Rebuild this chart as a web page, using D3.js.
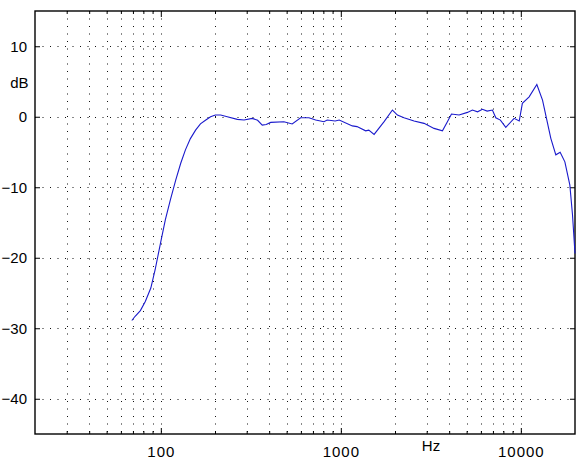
<!DOCTYPE html>
<html>
<head>
<meta charset="utf-8">
<script src="https://cdn.jsdelivr.net/npm/d3@7"></script>
<style>
  html, body { margin: 0; padding: 0; background: #fff; }
  svg { display: block; }
  text { font-family: Arial, "Liberation Sans", Helvetica, sans-serif; fill: #000; }
</style>
</head>
<body>
<script>
// Frequency response data (Hz, dB)
const freqs = [69, 72, 77, 82, 88, 93, 100, 106, 113, 121, 129, 137, 146, 156, 166, 177, 189, 201, 215, 234, 266, 290, 322, 345, 366, 385, 408, 483, 537, 598, 665, 725, 806, 840, 930, 980, 1159, 1230, 1374, 1430, 1531, 1740, 1935, 2063, 2244, 2552, 2900, 3296, 3670, 3910, 4119, 4540, 5053, 5385, 5750, 6120, 6500, 6955, 7260, 7700, 8252, 9178, 9800, 10200, 11125, 12275, 13200, 14680, 15650, 16540, 17570, 18725, 19370, 20000];
const levels = [-28.9, -28.3, -27.5, -26.2, -24.3, -21.7, -17.7, -14.6, -11.8, -9.0, -6.6, -4.7, -3.1, -1.9, -1.0, -0.5, 0.0, 0.24, 0.24, 0.0, -0.37, -0.47, -0.23, -0.5, -1.18, -1.1, -0.8, -0.7, -1.03, -0.14, -0.14, -0.47, -0.7, -0.47, -0.6, -0.47, -1.3, -1.4, -2.0, -1.9, -2.5, -0.7, 0.95, 0.24, -0.14, -0.6, -0.94, -1.65, -2.0, -0.7, 0.38, 0.24, 0.62, 0.95, 0.7, 1.05, 0.8, 0.95, -0.14, -0.47, -1.5, -0.23, -0.6, 1.9, 2.83, 4.58, 2.36, -3.06, -5.4, -5.05, -6.4, -9.7, -13.9, -19.4];

const xMajorTicks = [100, 1000, 10000];
const xTickLabels = ["100", "1000", "10000"];
const xGridVals = [30, 40, 50, 60, 70, 80, 90, 100, 200, 300, 400, 500, 600, 700, 800, 900, 1000, 2000, 3000, 4000, 5000, 6000, 7000, 8000, 9000, 10000];
const xMinorTicks = [30, 40, 50, 60, 70, 80, 90, 200, 300, 400, 500, 600, 700, 800, 900, 2000, 3000, 4000, 5000, 6000, 7000, 8000, 9000];
const yTicks = [-40, -30, -20, -10, 0, 10];
const yTickLabels = ["\u221240", "\u221230", "\u221220", "\u221210", "0", "10"];

const W = 585, H = 461;
const m = { left: 35, top: 11, right: 10, bottom: 27 };
const pw = W - m.left - m.right, ph = H - m.top - m.bottom;

const svg = d3.select("body").append("svg").attr("width", W).attr("height", H);
const g = svg.append("g").attr("transform", `translate(${m.left},${m.top})`);

const x = d3.scaleLog().domain([20, 20000]).range([0, pw]);
const y = d3.scaleLinear().domain([-45, 15]).range([ph, 0]);

// grid
const grid = g.append("g").attr("stroke", "#111").attr("stroke-width", 1).attr("stroke-dasharray", "1,6.5");
grid.selectAll("line.v").data(xGridVals).join("line")
  .attr("x1", d => Math.round(x(d)) + 0.5).attr("x2", d => Math.round(x(d)) + 0.5)
  .attr("y1", 0).attr("y2", ph);
grid.selectAll("line.h").data(yTicks).join("line")
  .attr("y1", d => Math.round(y(d)) + 0.5).attr("y2", d => Math.round(y(d)) + 0.5)
  .attr("x1", 0).attr("x2", pw);

// axes (inward ticks)
const yL = d3.axisLeft(y).tickValues(yTicks).tickSize(-5).tickFormat((d, i) => yTickLabels[i]).tickPadding(8);
const yR = d3.axisRight(y).tickValues(yTicks).tickSize(-5).tickFormat("");
const xB = d3.axisBottom(x).tickValues(xMajorTicks).tickSize(-6).tickFormat((d, i) => xTickLabels[i]).tickPadding(12);
const xT = d3.axisTop(x).tickValues(xMajorTicks).tickSize(-6).tickFormat("");
const xBm = d3.axisBottom(x).tickValues(xMinorTicks).tickSize(-3).tickFormat("");
const xTm = d3.axisTop(x).tickValues(xMinorTicks).tickSize(-3).tickFormat("");

function styleAxis(sel) {
  sel.select(".domain").remove();
  sel.selectAll("line").attr("stroke", "#000");
  sel.selectAll("text").style("font-size", "15px").attr("fill", "#000");
}
g.append("g").call(yL).call(styleAxis);
g.append("g").attr("transform", `translate(${pw},0)`).call(yR).call(styleAxis);
g.append("g").attr("transform", `translate(0,${ph})`).call(xB).call(styleAxis)
  .selectAll("text").style("letter-spacing", "1px");
g.append("g").call(xT).call(styleAxis);
g.append("g").attr("transform", `translate(0,${ph})`).call(xBm).call(styleAxis);
g.append("g").call(xTm).call(styleAxis);

// frame
g.append("rect").attr("x", 0).attr("y", 0).attr("width", pw).attr("height", ph)
  .attr("fill", "none").attr("stroke", "#000").attr("stroke-width", 1.4);

// curve
const data = freqs.map((f, i) => ({ f, v: levels[i] }));
g.append("path").datum(data)
  .attr("fill", "none").attr("stroke", "#1a1acc").attr("stroke-width", 1.1)
  .attr("d", d3.line().x(d => x(d.f)).y(d => y(d.v)));

// axis unit labels
svg.append("text").attr("x", 28.5).attr("y", 87.5).attr("text-anchor", "end").style("font-size", "15px").text("dB");
svg.append("text").attr("x", 431).attr("y", 451).attr("text-anchor", "middle").style("font-size", "15px").text("Hz");
</script>
</body>
</html>
